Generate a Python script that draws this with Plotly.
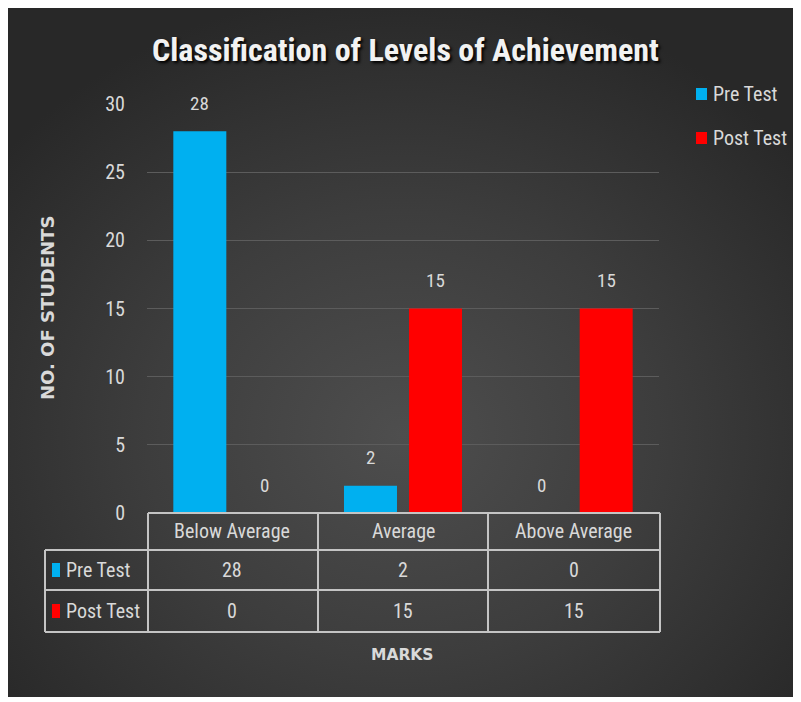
import base64
import plotly.graph_objects as go

categories = ["Below Average", "Average", "Above Average"]
series_names = ["Pre Test", "Post Test"]
pre_test = [28, 2, 0]
post_test = [0, 15, 15]
series_values = [pre_test, post_test]
series_colors = ["#00B0F0", "#FF0000"]
y_ticks = [0, 5, 10, 15, 20, 25, 30]
title_text = "Classification of Levels of Achievement"
y_title = "NO. OF STUDENTS"
x_title = "MARKS"

W, H = 801, 702
OFF = 8  # page body margin
L, R, T, B = 147, 659, 104, 513  # plot area in page px


def px(x):
    return (x - L) / (R - L)


def py(y):
    return (B - y) / (B - T)


FONT = "Liberation Sans Narrow, Arial Narrow, Roboto Condensed, Open Sans, sans-serif"
BOLD = "DejaVu Sans, Open Sans, sans-serif"
TXT = "#d9d9d9"

svg = '''<svg xmlns="http://www.w3.org/2000/svg" width="789" height="689" viewBox="0 0 789 689" preserveAspectRatio="none">
<defs><radialGradient id="g" cx="0.5" cy="0.62" r="0.65">
<stop offset="0" stop-color="#4e4e4e"/><stop offset="0.5" stop-color="#3d3d3d"/><stop offset="1" stop-color="#282828"/>
</radialGradient></defs><rect width="789" height="689" fill="url(#g)"/></svg>'''
svg_uri = "data:image/svg+xml;base64," + base64.b64encode(svg.encode()).decode()

fig = go.Figure()
for name, vals, col in zip(series_names, series_values, series_colors):
    fig.add_trace(go.Bar(
        x=categories, y=vals, name=name, marker=dict(color=col, line=dict(width=0)),
        showlegend=False,
    ))

shapes = []
annotations = []
line = dict(color="#c4c4c4", width=2)
# table lines
shapes.append(dict(type="line", xref="paper", yref="paper", x0=px(148), x1=px(660), y0=py(513), y1=py(513), line=line))
for yy in [550, 590, 632]:
    shapes.append(dict(type="line", xref="paper", yref="paper", x0=px(45), x1=px(660), y0=py(yy), y1=py(yy), line=line))
shapes.append(dict(type="line", xref="paper", yref="paper", x0=px(45), x1=px(45), y0=py(550), y1=py(632), line=line))
for xx in [148, 318, 488, 660]:
    shapes.append(dict(type="line", xref="paper", yref="paper", x0=px(xx), x1=px(xx), y0=py(513), y1=py(632), line=line))

# bar value labels
shifts = [-32.5, 32.5]
for vals, xs in zip(series_values, shifts):
    for c, v in zip(categories, vals):
        annotations.append(dict(text=str(v), xref="x", yref="y", x=c, y=v, xshift=xs, yshift=28,
                                showarrow=False, xanchor="center", yanchor="middle",
                                font=dict(family=FONT, size=19, color=TXT)))

# title
annotations.append(dict(text=f"<b>{title_text}</b>", xref="paper", yref="paper", x=px(405), y=py(50),
                        showarrow=False, xanchor="center", yanchor="middle",
                        font=dict(family=FONT, size=32, color="#f2f2f2", shadow="2px 2px 3px #000000")))
# axis titles
annotations.append(dict(text=f"<b>{y_title}</b>", xref="paper", yref="paper", x=px(47), y=py(308),
                        showarrow=False, textangle=-90, xanchor="center", yanchor="middle",
                        font=dict(family=BOLD, size=18, color=TXT)))
annotations.append(dict(text=f"<b>{x_title}</b>", xref="paper", yref="paper", x=px(402), y=py(655),
                        showarrow=False, xanchor="center", yanchor="middle",
                        font=dict(family=BOLD, size=15.5, color=TXT)))
# table header
for c in categories:
    annotations.append(dict(text=c, xref="x", yref="paper", x=c, y=py(531), showarrow=False,
                            xanchor="center", yanchor="middle", font=dict(family=FONT, size=20, color=TXT)))
row_y = [570, 611]
for name, vals, col, ry in zip(series_names, series_values, series_colors, row_y):
    shapes.append(dict(type="rect", xref="paper", yref="paper", x0=px(52), x1=px(60), y0=py(ry - 7), y1=py(ry + 7),
                       fillcolor=col, line=dict(width=0)))
    annotations.append(dict(text=name, xref="paper", yref="paper", x=px(64), y=py(ry), showarrow=False,
                            xanchor="left", yanchor="middle", font=dict(family=FONT, size=20, color=TXT)))
    for c, v in zip(categories, vals):
        annotations.append(dict(text=str(v), xref="x", yref="paper", x=c, y=py(ry), showarrow=False,
                                xanchor="center", yanchor="middle", font=dict(family=FONT, size=20, color=TXT)))

# legend (drawn)
leg_y = [94, 138]
for name, col, ly in zip(series_names, series_colors, leg_y):
    shapes.append(dict(type="rect", xref="paper", yref="paper", x0=px(696), x1=px(707), y0=py(ly - 6), y1=py(ly + 6),
                       fillcolor=col, line=dict(width=0)))
    annotations.append(dict(text=name, xref="paper", yref="paper", x=px(711), y=py(ly), showarrow=False,
                            xanchor="left", yanchor="middle", font=dict(family=FONT, size=20, color=TXT)))

fig.update_layout(
    width=W, height=H,
    margin=dict(l=L - OFF, r=W - (R - OFF), t=T - OFF, b=H - (B - OFF), pad=0),
    paper_bgcolor="#ffffff", plot_bgcolor="rgba(0,0,0,0)",
    barmode="group", bargap=0.238, bargroupgap=0.185,
    images=[dict(source=svg_uri, xref="paper", yref="paper", x=px(8), y=py(8),
                 sizex=789 / (R - L), sizey=689 / (B - T), sizing="stretch", layer="below",
                 xanchor="left", yanchor="top")],
    shapes=shapes, annotations=annotations,
    xaxis=dict(showticklabels=False, showgrid=False, zeroline=False, showline=False, ticks=""),
    yaxis=dict(range=[0, 30], tickvals=y_ticks, showgrid=True, gridcolor="#5c5c5c", gridwidth=1,
               zeroline=False, showline=False, ticks="", ticklabelstandoff=21,
               tickfont=dict(family=FONT, size=20, color=TXT)),
    showlegend=False,
)

fig.write_html("out.html", config={"responsive": False})
